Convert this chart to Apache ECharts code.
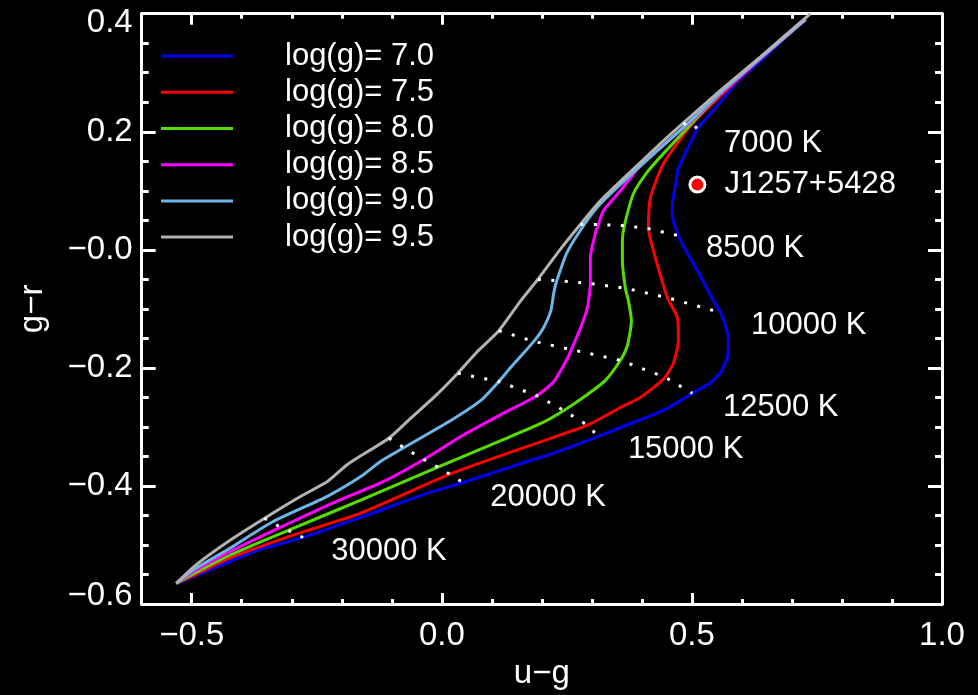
<!DOCTYPE html>
<html>
<head>
<meta charset="utf-8">
<script src="https://cdn.jsdelivr.net/npm/echarts@6/dist/echarts.min.js"></script>
<style>
  html, body { margin: 0; padding: 0; background: #000; }
  #chart { width: 978px; height: 695px; }
</style>
</head>
<body>
<div id="chart"></div>
<script>
// Surface-gravity model tracks in the (u-g, g-r) plane, hot end first.
const gravityNames = ['log(g)= 7.0', 'log(g)= 7.5', 'log(g)= 8.0', 'log(g)= 8.5', 'log(g)= 9.0', 'log(g)= 9.5'];

const track70 = [
  [-0.531,-0.565],[-0.495,-0.553],[-0.421,-0.527],[-0.361,-0.507],[-0.277,-0.487],[-0.162,-0.453],
  [-0.028,-0.412],[0.042,-0.394],[0.158,-0.362],[0.238,-0.340],[0.313,-0.316],[0.357,-0.301],
  [0.443,-0.272],[0.501,-0.243],[0.537,-0.225],[0.557,-0.208],[0.571,-0.182],[0.573,-0.153],
  [0.567,-0.128],[0.557,-0.106],[0.537,-0.077],[0.511,-0.035],[0.491,-0.006],[0.473,0.024],
  [0.461,0.058],[0.461,0.078],[0.467,0.109],[0.473,0.138],[0.491,0.171],[0.511,0.205],
  [0.551,0.244],[0.591,0.285],[0.637,0.320],[0.677,0.352],[0.727,0.390]
];
const track75 = [
  [-0.531,-0.565],[-0.495,-0.551],[-0.421,-0.521],[-0.293,-0.482],[-0.162,-0.446],[0.016,-0.380],
  [0.184,-0.329],[0.291,-0.297],[0.357,-0.267],[0.397,-0.250],[0.443,-0.219],[0.463,-0.192],
  [0.473,-0.153],[0.471,-0.115],[0.451,-0.081],[0.437,-0.043],[0.423,-0.001],[0.413,0.036],
  [0.417,0.088],[0.443,0.146],[0.501,0.214],[0.561,0.264],[0.637,0.324],[0.727,0.390]
];
const track80 = [
  [-0.531,-0.565],[-0.495,-0.548],[-0.421,-0.516],[-0.307,-0.475],[-0.162,-0.424],[-0.008,-0.368],
  [0.118,-0.323],[0.198,-0.294],[0.244,-0.272],[0.291,-0.245],[0.327,-0.221],[0.357,-0.187],
  [0.371,-0.162],[0.379,-0.120],[0.373,-0.086],[0.367,-0.065],[0.361,-0.018],[0.361,0.016],
  [0.365,0.041],[0.383,0.095],[0.411,0.132],[0.443,0.163],[0.497,0.212],[0.557,0.264],
  [0.637,0.324],[0.727,0.390]
];
const track85 = [
  [-0.531,-0.565],[-0.495,-0.544],[-0.421,-0.510],[-0.323,-0.470],[-0.216,-0.428],[-0.116,-0.392],
  [-0.036,-0.355],[0.038,-0.316],[0.118,-0.279],[0.190,-0.247],[0.224,-0.223],[0.251,-0.184],
  [0.259,-0.169],[0.277,-0.133],[0.291,-0.098],[0.297,-0.057],[0.297,-0.013],[0.307,0.028],
  [0.313,0.043],[0.323,0.066],[0.357,0.100],[0.397,0.143],[0.437,0.173],[0.491,0.212],
  [0.557,0.264],[0.637,0.324],[0.727,0.390]
];
const track90 = [
  [-0.531,-0.565],[-0.495,-0.541],[-0.421,-0.504],[-0.339,-0.461],[-0.228,-0.417],[-0.162,-0.384],
  [-0.122,-0.358],[-0.076,-0.335],[0.018,-0.289],[0.078,-0.255],[0.114,-0.223],[0.138,-0.199],
  [0.184,-0.155],[0.204,-0.131],[0.218,-0.103],[0.224,-0.072],[0.230,-0.052],[0.250,-0.005],
  [0.285,0.043],[0.317,0.078],[0.371,0.122],[0.431,0.168],[0.489,0.212],[0.557,0.266],
  [0.637,0.325],[0.727,0.390]
];
const track95 = [
  [-0.531,-0.565],[-0.495,-0.536],[-0.427,-0.494],[-0.355,-0.455],[-0.281,-0.417],[-0.228,-0.392],
  [-0.188,-0.363],[-0.106,-0.319],[-0.062,-0.285],[-0.016,-0.250],[0.032,-0.209],[0.068,-0.175],
  [0.114,-0.137],[0.158,-0.086],[0.192,-0.050],[0.238,0.002],[0.277,0.043],[0.317,0.083],
  [0.357,0.116],[0.397,0.148],[0.437,0.180],[0.483,0.215],[0.557,0.270],[0.637,0.327],
  [0.737,0.400]
];
const gravityTracks = [track70, track75, track80, track85, track90, track95];

// Lines of constant effective temperature, running from log(g)=9.5 to log(g)=7.0.
const temperatureNames = ['7000 K', '8500 K', '10000 K', '12500 K', '15000 K', '20000 K', '30000 K'];
const iso7000  = [[0.483,0.215],[0.489,0.212],[0.491,0.212],[0.497,0.212],[0.501,0.214],[0.511,0.205]];
const iso8500  = [[0.277,0.043],[0.285,0.043],[0.313,0.043],[0.365,0.041],[0.413,0.036],[0.473,0.024]];
const iso10000 = [[0.192,-0.050],[0.230,-0.052],[0.297,-0.057],[0.367,-0.065],[0.451,-0.081],[0.557,-0.106]];
const iso12500 = [[0.114,-0.137],[0.184,-0.155],[0.259,-0.169],[0.357,-0.187],[0.447,-0.216],[0.501,-0.243]];
const iso15000 = [[0.032,-0.209],[0.114,-0.223],[0.190,-0.247],[0.244,-0.272],[0.291,-0.297],[0.313,-0.316]];
const iso20000 = [[-0.106,-0.319],[-0.076,-0.335],[-0.036,-0.355],[-0.008,-0.368],[0.016,-0.380],[0.042,-0.394]];
const iso30000 = [[-0.355,-0.455],[-0.339,-0.461],[-0.323,-0.470],[-0.307,-0.475],[-0.293,-0.482],[-0.277,-0.487]];
const isotherms = [iso7000, iso8500, iso10000, iso12500, iso15000, iso20000, iso30000];
// Anchor (left end) of each temperature caption.
const temperatureLabelAt = [[0.563,0.180],[0.527,0.002],[0.617,-0.128],[0.561,-0.267],[0.371,-0.338],[0.096,-0.419],[-0.222,-0.511]];

// The observed white dwarf.
const starName = 'J1257+5428';
const starColour = [0.511, 0.1105];

// Axis ticks.
const xMajorTicks = [-0.5, 0.0, 0.5, 1.0];
const xMinorTicks = [-0.6,-0.5,-0.4,-0.3,-0.2,-0.1,0.0,0.1,0.2,0.3,0.4,0.5,0.6,0.7,0.8,0.9,1.0];

const trackColours = ['#0000f5', '#ff0000', '#55dd00', '#ff00ff', '#6cb5e6', '#b2b2b2'];
const FONT = "'Liberation Sans', Arial, Helvetica, sans-serif";
const WHITE = '#ffffff';

const minus = '\u2212';
const fmtX = v => (v < -1e-9 ? minus : '') + Math.abs(v).toFixed(1);
const fmtY = v => {
  const s = (v > 1e-9 ? '' : minus) + Math.abs(v).toFixed(1);
  if (Math.abs(v - 0.4) < 1e-6) return '{hi|' + s + '}';
  if (Math.abs(v + 0.6) < 1e-6) return '{lo|' + s + '}';
  return s;
};

const tickFont = { color: WHITE, fontSize: 33, fontFamily: FONT };
const axisLineStyle = { color: WHITE, width: 3 };

function xAxisPart(position, major, withLabels) {
  return {
    type: 'value', position: position, min: -0.6, max: 1.0, interval: 0.1,
    axisLine: { show: !major, onZero: false, lineStyle: axisLineStyle },
    axisTick: { show: true, inside: true, length: major ? 11 : 5,
                customValues: major ? xMajorTicks : xMinorTicks,
                lineStyle: { color: WHITE, width: 3 } },
    axisLabel: withLabels ? Object.assign({ show: true, customValues: xMajorTicks, formatter: fmtX, margin: 15 }, tickFont)
                          : { show: false },
    splitLine: { show: false }
  };
}

function yAxisPart(position, withLabels) {
  return {
    type: 'value', position: position, min: -0.6, max: 0.4, interval: 0.2,
    axisLine: { show: true, onZero: false, lineStyle: axisLineStyle },
    axisTick: { show: true, inside: true, length: 14, lineStyle: { color: WHITE, width: 3 } },
    minorTick: { show: true, splitNumber: 4, length: 7, lineStyle: { color: WHITE, width: 3 } },
    axisLabel: withLabels ? Object.assign({
      show: true, formatter: fmtY, margin: 9,
      rich: {
        hi: Object.assign({ padding: [18, 0, 0, 0] }, tickFont),
        lo: Object.assign({ padding: [0, 0, 16, 0] }, tickFont)
      }
    }, tickFont) : { show: false },
    splitLine: { show: false },
    minorSplitLine: { show: false }
  };
}

const xAxes = [
  xAxisPart('bottom', false, true),
  xAxisPart('bottom', true, false),
  xAxisPart('top', false, false),
  xAxisPart('top', true, false)
];
Object.assign(xAxes[0], {
  name: 'u' + minus + 'g', nameLocation: 'middle', nameGap: 49,
  nameTextStyle: { color: WHITE, fontSize: 33, fontFamily: FONT }
});

const yAxes = [yAxisPart('left', true), yAxisPart('right', false)];
Object.assign(yAxes[0], {
  name: 'g' + minus + 'r', nameLocation: 'middle', nameGap: 92,
  nameTextStyle: { color: WHITE, fontSize: 33, fontFamily: FONT }
});

const series = [];
gravityTracks.forEach((track, i) => {
  series.push({
    name: gravityNames[i], type: 'line', data: track,
    symbol: 'none', showSymbol: false, smooth: 0.2, silent: true, z: 2 + i * 0.01,
    itemStyle: { color: trackColours[i] },
    lineStyle: { color: trackColours[i], width: 3 }
  });
});
isotherms.forEach((iso, i) => {
  series.push({
    name: temperatureNames[i], type: 'line', data: iso,
    symbol: 'none', showSymbol: false, silent: true, z: 3,
    lineStyle: { color: '#ffffff', width: 3, type: [3, 10.5] }
  });
});
series.push({
  name: 'temperature captions', type: 'scatter', silent: true, z: 4,
  symbolSize: 1, itemStyle: { color: 'rgba(0,0,0,0)', opacity: 1 },
  data: temperatureLabelAt.map((p, i) => ({ value: p, name: temperatureNames[i] })),
  label: { show: true, position: 'right', distance: 0, formatter: '{b}', opacity: 1,
           color: WHITE, fontSize: 31, fontFamily: FONT }
});
series.push({
  name: starName, type: 'scatter', silent: true, z: 5,
  symbolSize: 15,
  itemStyle: { color: '#ff0000', borderColor: WHITE, borderWidth: 3, opacity: 1 },
  data: [{ value: starColour, name: starName }],
  label: { show: true, position: 'right', distance: 18, formatter: '{b}', opacity: 1,
           color: WHITE, fontSize: 31, fontFamily: FONT }
});

const chart = echarts.init(document.getElementById('chart'), null, { renderer: 'canvas' });
chart.setOption({
  backgroundColor: '#000000',
  animation: false,
  grid: { left: 141.7, right: 36, top: 13.7, bottom: 89, containLabel: false },
  xAxis: xAxes,
  yAxis: yAxes,
  legend: {
    data: gravityNames, orient: 'vertical', left: 156, top: 33,
    itemGap: 0, itemWidth: 72, itemHeight: 3, icon: 'rect', selectedMode: false,
    textStyle: { color: WHITE, fontSize: 31, fontFamily: FONT, padding: [0, 0, 0, 47], lineHeight: 36.2 }
  },
  series: series
});
</script>
</body>
</html>
